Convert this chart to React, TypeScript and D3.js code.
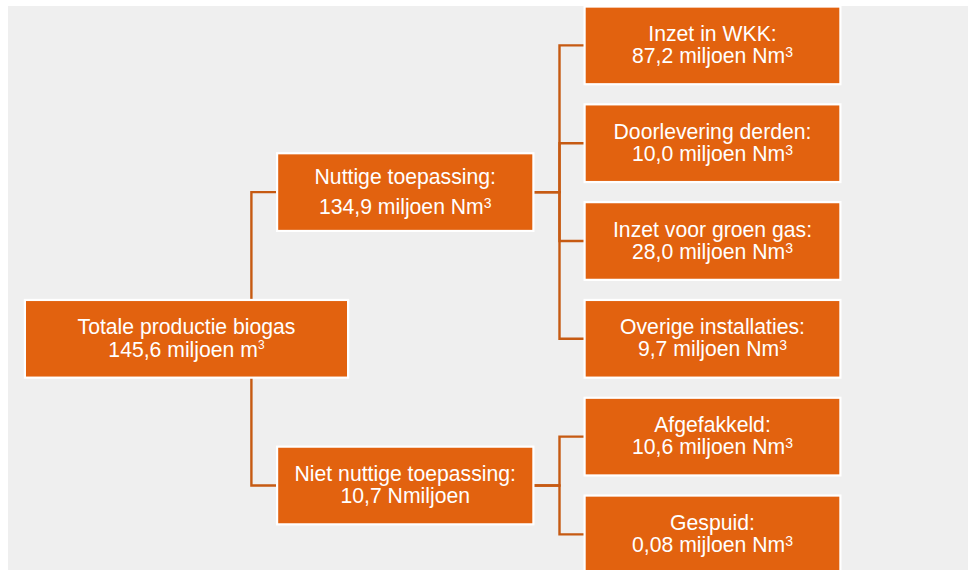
import React from "react";
import * as d3 from "d3";

// ---- data ----
const nodeIds = ["root", "nuttig", "nietNuttig", "wkk", "derden", "groenGas", "overig", "afgefakkeld", "gespuid"];
const nodeParents = ["", "root", "root", "nuttig", "nuttig", "nuttig", "nuttig", "nietNuttig", "nietNuttig"];
const nodeTitles = [
  "Totale productie biogas",
  "Nuttige toepassing:",
  "Niet nuttige toepassing:",
  "Inzet in WKK:",
  "Doorlevering derden:",
  "Inzet voor groen gas:",
  "Overige installaties:",
  "Afgefakkeld:",
  "Gespuid:",
];
const nodeValues = ["145,6", "134,9", "10,7", "87,2", "10,0", "28,0", "9,7", "10,6", "0,08"];
const nodeUnits = [
  "miljoen m",
  "miljoen Nm",
  "Nmiljoen",
  "miljoen Nm",
  "miljoen Nm",
  "miljoen Nm",
  "miljoen Nm",
  "miljoen Nm",
  "mijloen Nm",
];
const nodeUnitSup = ["3", "3", "", "3", "3", "3", "3", "3", "3"];

// ---- layout / style ----
const W = 968;
const H = 570;
const ORANGE = "#E2620F";
const LINE = "#C65A12";
const PANEL = "#EFEFEF";
const FONT = "'Liberation Sans', Arial, Helvetica, sans-serif";
const rootCY = 338.8;
const pitch = 97.8;
const boxH = 75.5;
const border = 2.2;
// inner x-extent per depth
const colX0 = [26, 278.2, 585.7];
const colX1 = [347, 532.3, 839.3];
const elbowX = [251.4, 559.5];
const lineGaps: Record<string, number> = {
  root: 23.4,
  nuttig: 30,
  nietNuttig: 21.7,
};
const defaultGap = 22;

type Row = { id: string; parent: string; i: number };

export default function App() {
  const rows: Row[] = nodeIds.map((id, i) => ({ id, parent: nodeParents[i], i }));
  const root = d3
    .stratify<Row>()
    .id((d) => d.id)
    .parentId((d) => d.parent || null)(rows);

  d3
    .tree<Row>()
    .nodeSize([pitch, 1])
    .separation(() => 1)(root);

  const yScale = d3.scaleLinear().domain([0, 1]).range([rootCY, rootCY + 1]);
  const nodes = root.descendants();
  const cy = (n: any) => yScale(n.x);

  const links = root.links();

  return (
    <svg
      width={W}
      height={H}
      style={{ position: "absolute", left: 0, top: 0, display: "block" }}
      fontFamily={FONT}
    >
      <rect x={0} y={0} width={W} height={H} fill="#ffffff" />
      <rect x={8} y={6} width={W - 8} height={H - 6} fill={PANEL} />
      {/* connectors */}
      <g fill="none" stroke={LINE} strokeWidth={2.4}>
        {links.map((l: any, k) => {
          const sd = l.source.depth;
          const ex = elbowX[sd];
          const sy = cy(l.source);
          const ty = cy(l.target);
          const sx = Math.min(colX1[sd], ex);
          const tx = colX0[l.target.depth];
          const d = `M${sx},${sy}H${ex}V${ty}H${tx}`;
          return <path key={k} d={d} />;
        })}
      </g>
      {/* boxes */}
      {nodes.map((n: any) => {
        const i = n.data.i;
        const dpt = n.depth;
        const x0 = colX0[dpt];
        const x1 = colX1[dpt];
        const c = cy(n);
        const y0 = c - boxH / 2;
        const gap = lineGaps[n.data.id] ?? defaultGap;
        const b1 = c - gap / 2 + 6.6;
        const cx = (x0 + x1) / 2;
        const isRoot = dpt === 0;
        const supSize = isRoot ? 12 : 14;
        const supRaise = isRoot ? 8 : 6;
        return (
          <g key={n.data.id}>
            <rect
              x={x0 - border}
              y={y0 - border}
              width={x1 - x0 + 2 * border}
              height={boxH + 2 * border}
              fill="#ffffff"
            />
            <rect x={x0} y={y0} width={x1 - x0} height={boxH} fill={ORANGE} />
            <text x={cx} y={b1} textAnchor="middle" fill="#ffffff" fontSize={21.2}>
              {nodeTitles[i]}
            </text>
            <text x={cx} y={b1 + gap} textAnchor="middle" fill="#ffffff" fontSize={21.2}>
              <tspan>{`${nodeValues[i]} ${nodeUnits[i]}`}</tspan>
              {nodeUnitSup[i] ? (
                <tspan dy={-supRaise} fontSize={supSize}>
                  {nodeUnitSup[i]}
                </tspan>
              ) : null}
            </text>
          </g>
        );
      })}
    </svg>
  );
}
